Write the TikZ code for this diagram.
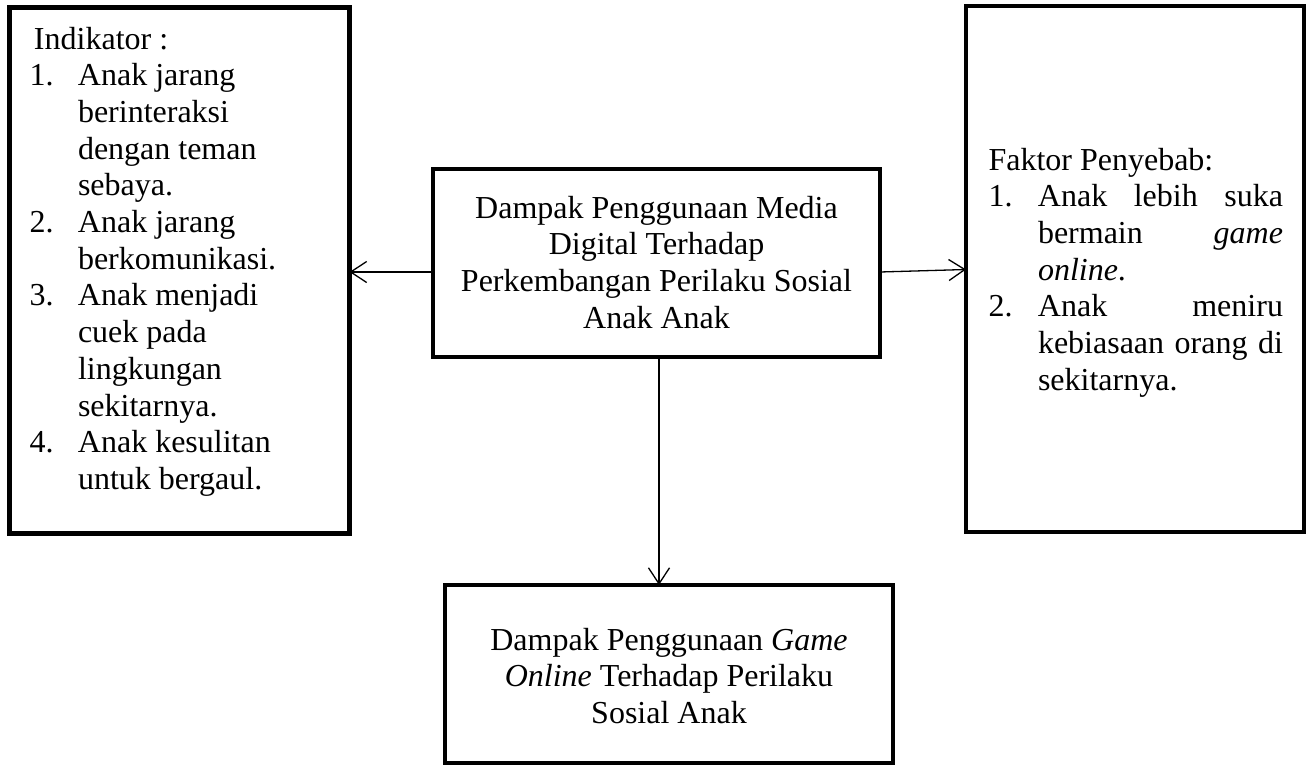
\documentclass[tikz,border=0pt]{standalone}
\usepackage{fontspec}
\setmainfont{Liberation Serif}
\usetikzlibrary{arrows.meta}
\tikzset{
  box/.style={draw=black, line width=4.5pt, rectangle, inner sep=0pt, outer sep=0pt},
  txt/.style={inner sep=0pt, outer sep=0pt, font=\fontsize{32}{36.7}\selectfont},
  arr/.style={line width=1.3pt, -{Straight Barb[length=16pt,width=21pt]}}
}
\begin{document}
\begin{tikzpicture}[x=1pt, y=-1pt]
\useasboundingbox (0,0) rectangle (1307,766);
% boxes
\node[box, minimum width=340pt, minimum height=526pt] (ind) at (179.5,270.5) {};
\node[box, minimum width=447pt, minimum height=188pt] (mid) at (656.5,263) {};
\node[box, minimum width=338pt, minimum height=526pt] (fak) at (1135,269) {};
\node[box, minimum width=448pt, minimum height=178pt] (bot) at (669,674) {};
% texts
\node[txt, anchor=base west] (indtext) at (29.5,49) {\vtop{%
\hbox{\hskip4.5pt Indikator :}
\hbox{\hbox to 48.5pt{1.\hss}Anak jarang}
\hbox{\hskip48.5pt berinteraksi}
\hbox{\hskip48.5pt dengan teman}
\hbox{\hskip48.5pt sebaya.}
\hbox{\hbox to 48.5pt{2.\hss}Anak jarang}
\hbox{\hskip48.5pt berkomunikasi.}
\hbox{\hbox to 48.5pt{3.\hss}Anak menjadi}
\hbox{\hskip48.5pt cuek pada}
\hbox{\hskip48.5pt lingkungan}
\hbox{\hskip48.5pt sekitarnya.}
\hbox{\hbox to 48.5pt{4.\hss}Anak kesulitan}
\hbox{\hskip48.5pt untuk bergaul.}}};
\node[txt, anchor=base west] (faktext) at (988.5,170) {\vtop{%
\hbox{Faktor Penyebab:}
\hbox{\hbox to 49.5pt{1.\hss}\hbox to 245pt{Anak\hfill lebih\hfill suka}}
\hbox{\hskip49.5pt\hbox to 245pt{bermain\hfill \textit{game}}}
\hbox{\hskip49.5pt\textit{online}.}
\hbox{\hbox to 49.5pt{2.\hss}\hbox to 245pt{Anak\hfill meniru}}
\hbox{\hskip49.5pt\hbox to 245pt{kebiasaan\hfill orang\hfill di}}
\hbox{\hskip49.5pt sekitarnya.}}};
\node[txt, anchor=base] (midtext) at (656.5,218) {\vtop{%
\hbox to 0pt{\hss Dampak Penggunaan Media\hss}
\hbox to 0pt{\hss Digital Terhadap\hss}
\hbox to 0pt{\hss Perkembangan Perilaku Sosial\hss}
\hbox to 0pt{\hss Anak Anak\hss}}};
\node[txt, anchor=base] (bottext) at (669,650) {\vtop{%
\hbox to 0pt{\hss Dampak Penggunaan \textit{Game}\hss}
\hbox to 0pt{\hss\textit{Online} Terhadap Perilaku\hss}
\hbox to 0pt{\hss Sosial Anak\hss}}};
% connectors
\coordinate (ly) at (0,272);
\coordinate (ry1) at (0,272);
\coordinate (ry2) at (0,269.5);
\coordinate (dx) at (659,0);
\draw[arr] (mid.west |- ly) -- (ind.east |- ly);
\draw[arr] (mid.east |- ry1) -- (fak.west |- ry2);
\draw[arr] (mid.south -| dx) -- (bot.north -| dx);
\end{tikzpicture}
\end{document}
